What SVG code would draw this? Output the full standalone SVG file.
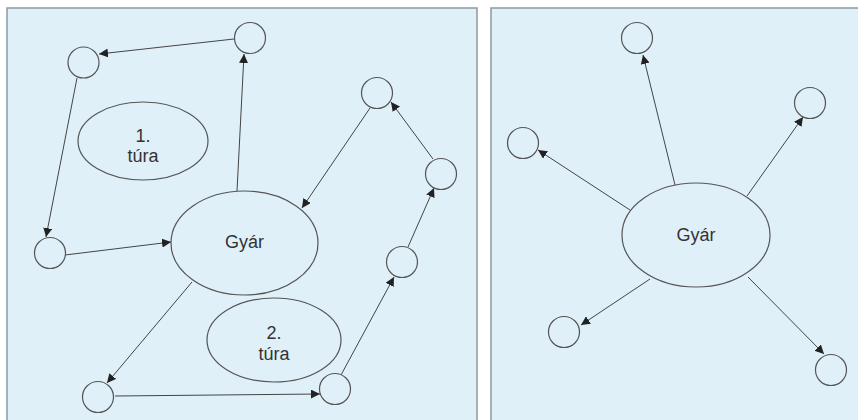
<svg xmlns="http://www.w3.org/2000/svg" width="858" height="420" viewBox="0 0 858 420">
  <style>
    .panel { fill: #dff0f9; stroke: #8c9ba2; stroke-width: 1.5; }
    .node { fill: none; stroke: #555; stroke-width: 1.2; }
    .edge { fill: none; stroke: #444; stroke-width: 1; marker-end: url(#arrow); }
    .label { font-family: "Liberation Sans", Arial, sans-serif; font-size: 18px; fill: #333; text-anchor: middle; }
  </style>
  <defs>
    <marker id="arrow" viewBox="0 0 10 10" refX="10" refY="5" markerWidth="9" markerHeight="9" markerUnits="userSpaceOnUse" orient="auto">
      <path d="M0,0 L10,5 L0,10 z" fill="#222"/>
    </marker>
  </defs>

  <rect width="858" height="420" fill="#ffffff"/>
  <!-- Panels -->
  <rect class="panel" x="7" y="8" width="470" height="420"/>
  <rect class="panel" x="491" y="8" width="375" height="420"/>

  <!-- Left panel: two tours -->
  <g id="connectors-left">
    <line class="edge" x1="234" y1="39" x2="99" y2="54"/>
    <line class="edge" x1="237" y1="191" x2="244" y2="54"/>
    <line class="edge" x1="77" y1="78" x2="46" y2="237"/>
    <line class="edge" x1="65" y1="255" x2="171" y2="242"/>
    <line class="edge" x1="370" y1="108" x2="302" y2="208"/>
    <line class="edge" x1="433" y1="159" x2="391" y2="102"/>
    <line class="edge" x1="408" y1="247" x2="434" y2="188"/>
    <line class="edge" x1="341" y1="375" x2="394" y2="277"/>
    <line class="edge" x1="192" y1="282" x2="107" y2="383"/>
    <line class="edge" x1="115" y1="396" x2="320" y2="394"/>
  </g>

  <g id="gyar-left">
    <ellipse class="node" cx="244.5" cy="243" rx="73.5" ry="52"/>
    <text class="label" x="244.5" y="248">Gyár</text>
  </g>
  <g id="tura1">
    <ellipse class="node" cx="143" cy="141" rx="65" ry="39"/>
    <text class="label" x="143" y="142">1.</text>
    <text class="label" x="143" y="162">túra</text>
  </g>
  <g id="tura2">
    <ellipse class="node" cx="274" cy="340" rx="67" ry="42"/>
    <text class="label" x="274" y="339">2.</text>
    <text class="label" x="274" y="360">túra</text>
  </g>
  <g id="a"><circle class="node" cx="83.5" cy="62.5" r="15.5"/></g>
  <g id="b"><circle class="node" cx="250" cy="38" r="15.5"/></g>
  <g id="c"><circle class="node" cx="50" cy="253" r="15.5"/></g>
  <g id="d"><circle class="node" cx="98" cy="397" r="15.5"/></g>
  <g id="e"><circle class="node" cx="335" cy="389" r="15.5"/></g>
  <g id="f"><circle class="node" cx="402" cy="262" r="15.5"/></g>
  <g id="g"><circle class="node" cx="441" cy="174" r="15.5"/></g>
  <g id="h"><circle class="node" cx="377" cy="93" r="15.5"/></g>

  <!-- Right panel: star delivery -->
  <g id="connectors-right">
    <line class="edge" x1="675" y1="185" x2="643" y2="55"/>
    <line class="edge" x1="747" y1="196" x2="803" y2="117"/>
    <line class="edge" x1="630" y1="210" x2="538" y2="150"/>
    <line class="edge" x1="650" y1="279" x2="581" y2="325"/>
    <line class="edge" x1="748" y1="277" x2="824" y2="354"/>
  </g>

  <g id="gyar-right">
    <ellipse class="node" cx="696" cy="235" rx="74" ry="52"/>
    <text class="label" x="696" y="241">Gyár</text>
  </g>
  <g id="s1"><circle class="node" cx="637" cy="38" r="15.5"/></g>
  <g id="s2"><circle class="node" cx="810" cy="103" r="15.5"/></g>
  <g id="s3"><circle class="node" cx="523" cy="143" r="15.5"/></g>
  <g id="s4"><circle class="node" cx="564" cy="332" r="15.5"/></g>
  <g id="s5"><circle class="node" cx="831" cy="370" r="15.5"/></g>
</svg>
